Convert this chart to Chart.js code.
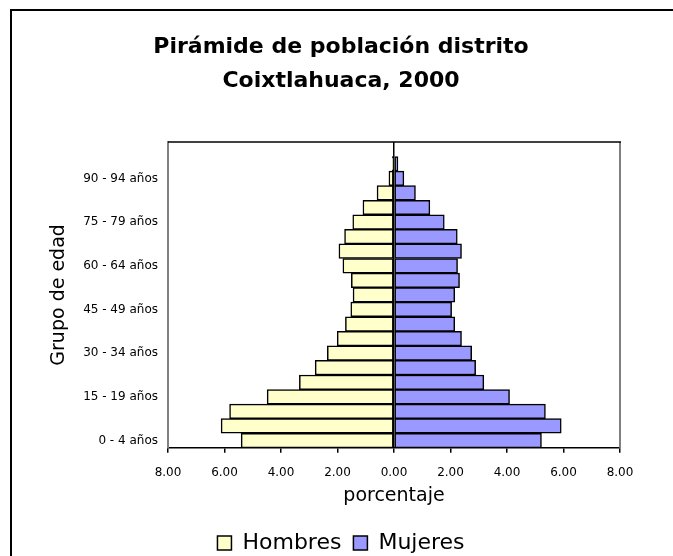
<!DOCTYPE html>
<html>
<head>
<meta charset="utf-8">
<script src="https://cdn.jsdelivr.net/npm/chart.js@4.4.1/dist/chart.umd.min.js"></script>
<style>
  html, body { margin: 0; padding: 0; background: #fff; overflow: hidden; }
  #wrap { position: relative; width: 673px; height: 556px; }
  #frame {
    position: absolute; left: 10px; top: 9px; width: 700px; height: 600px;
    border-left: 2px solid #000; border-top: 2px solid #000; pointer-events: none;
  }
</style>
</head>
<body>
<div id="wrap">
  <canvas id="pyramid"></canvas>
  <div id="frame"></div>
</div>
<script>
// grupos de edad, de abajo hacia arriba
const ageGroups = [
  "0 - 4 años", "5 - 9 años", "10 - 14 años", "15 - 19 años", "20 - 24 años",
  "25 - 29 años", "30 - 34 años", "35 - 39 años", "40 - 44 años", "45 - 49 años",
  "50 - 54 años", "55 - 59 años", "60 - 64 años", "65 - 69 años", "70 - 74 años",
  "75 - 79 años", "80 - 84 años", "85 - 89 años", "90 - 94 años", "95 - 99 años",
  "100 y más años"
];

// porcentaje de la población
const hombres = [5.41, 6.12, 5.82, 4.49, 3.35, 2.79, 2.36, 2.01, 1.72, 1.53,
                 1.45, 1.51, 1.81, 1.95, 1.75, 1.46, 1.10, 0.60, 0.18, 0.06, 0];
const mujeres = [5.22, 5.92, 5.36, 4.09, 3.18, 2.89, 2.75, 2.39, 2.15, 2.04,
                 2.15, 2.32, 2.25, 2.39, 2.24, 1.78, 1.27, 0.76, 0.35, 0.14, 0];

const xTicks = [-8, -6, -4, -2, 0, 2, 4, 6, 8];

const FONT = "'DejaVu Sans', sans-serif";

// marco del área de trazado (arriba negro, derecha gris)
const plotFrame = {
  id: "plotFrame",
  afterDraw(chart) {
    const { ctx, chartArea: a } = chart;
    ctx.save();
    ctx.lineWidth = 2;
    ctx.strokeStyle = "#808080";
    ctx.beginPath();
    ctx.moveTo(a.right, a.top);
    ctx.lineTo(a.right, a.bottom);
    ctx.stroke();
    ctx.strokeStyle = "#000";
    ctx.lineWidth = 1.5;
    ctx.beginPath();
    ctx.moveTo(a.left, a.top);
    ctx.lineTo(a.right + 1, a.top);
    ctx.stroke();
    ctx.restore();
  }
};

new Chart(document.getElementById("pyramid"), {
  type: "bar",
  data: {
    labels: ageGroups,
    datasets: [
      {
        label: "Hombres",
        data: hombres.map(v => -v),
        backgroundColor: "#FFFFCC",
        borderColor: "#000",
        borderWidth: 1.5,
        borderSkipped: false
      },
      {
        label: "Mujeres",
        data: mujeres,
        backgroundColor: "#9999FF",
        borderColor: "#000",
        borderWidth: 1.5,
        borderSkipped: false
      }
    ]
  },
  options: {
    indexAxis: "y",
    responsive: true,
    maintainAspectRatio: false,
    animation: false,
    barPercentage: 1,
    categoryPercentage: 1,
    layout: { padding: { left: 62, right: 53, top: 0, bottom: -8 } },
    plugins: {
      tooltip: { enabled: false },
      title: {
        display: true,
        text: ["Pirámide de población distrito", "Coixtlahuaca, 2000"],
        color: "#000",
        font: { family: FONT, size: 22, weight: "bold", lineHeight: 1.545 },
        padding: { top: 30, bottom: 44 }
      },
      legend: {
        position: "bottom",
        labels: {
          color: "#000",
          font: { family: FONT, size: 22 },
          boxWidth: 14,
          boxHeight: 14,
          padding: 12
        }
      }
    },
    scales: {
      x: {
        stacked: true,
        min: -8,
        max: 8,
        afterBuildTicks: axis => { axis.ticks = xTicks.map(v => ({ value: v })); },
        ticks: {
          color: "#000",
          font: { family: FONT, size: 12 },
          padding: 13,
          callback: v => Math.abs(v).toFixed(2)
        },
        grid: {
          drawOnChartArea: true,
          color: c => (c.tick && c.tick.value === 0 ? "#000" : "rgba(0,0,0,0)"),
          lineWidth: 1.5,
          tickColor: "#000",
          tickLength: 5
        },
        border: { color: "#000", width: 1.5 },
        title: {
          display: true,
          text: "porcentaje",
          color: "#000",
          font: { family: FONT, size: 19 },
          padding: { top: -9, bottom: 13 }
        }
      },
      y: {
        stacked: true,
        reverse: true,
        afterFit: axis => { axis.width = 106; },
        ticks: {
          color: "#000",
          font: { family: FONT, size: 12 },
          padding: 10,
          autoSkip: false,
          callback: function (v, i) { return i % 3 === 0 ? this.getLabelForValue(v) : ""; }
        },
        grid: { display: false, drawTicks: false },
        border: { color: "#808080", width: 2 },
        title: {
          display: true,
          text: "Grupo de edad",
          color: "#000",
          font: { family: FONT, size: 19 },
          padding: { top: -14, bottom: 0 }
        }
      }
    }
  },
  plugins: [plotFrame]
});
</script>
</body>
</html>
